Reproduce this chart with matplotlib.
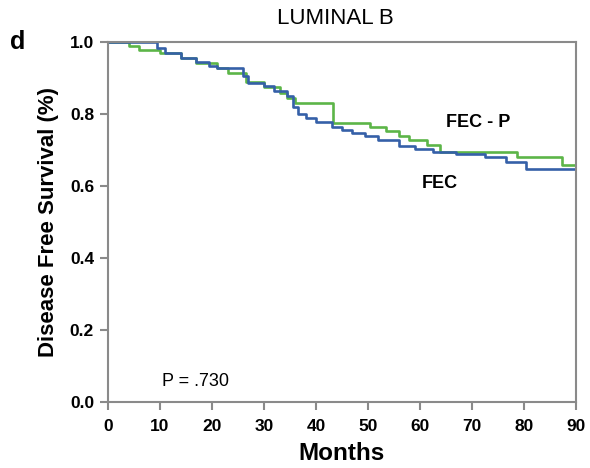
import matplotlib.pyplot as plt

plt.rcParams['font.family'] = ['Liberation Sans', 'DejaVu Sans']

# Kaplan-Meier step estimates (months, survival fraction)
fec_months = [0, 9.5, 11, 14, 17, 19.5, 21, 26, 27, 30, 32, 34.5, 35.5, 36.5, 38, 40,
              43, 45, 47, 49.5, 52, 56, 59, 62.5, 67, 72.5, 76.5, 80.5, 90]
fec_surv = [1.0, 0.985, 0.969, 0.955, 0.945, 0.935, 0.928, 0.905, 0.886, 0.878, 0.865,
            0.85, 0.82, 0.80, 0.79, 0.778, 0.765, 0.756, 0.748, 0.738, 0.728, 0.712,
            0.703, 0.694, 0.69, 0.68, 0.667, 0.647, 0.647]

fecp_months = [0, 4, 6, 10, 14, 17, 21, 23, 26.5, 30, 33, 34.5, 36, 43.3, 50.5, 53.5,
               56, 58, 61.3, 63.8, 78.6, 87.3, 90]
fecp_surv = [1.0, 0.99, 0.978, 0.97, 0.955, 0.942, 0.928, 0.914, 0.89, 0.875, 0.86,
             0.845, 0.832, 0.775, 0.765, 0.752, 0.74, 0.728, 0.714, 0.694, 0.68,
             0.658, 0.658]

x_ticks = [0, 10, 20, 30, 40, 50, 60, 70, 80, 90]
y_ticks = [0.0, 0.2, 0.4, 0.6, 0.8, 1.0]

fig = plt.figure(figsize=(5.9, 4.68), dpi=100)
ax = fig.add_axes([0.183, 0.141, 0.793, 0.769])

ax.step(fecp_months, fecp_surv, where='post', color='#5cb548', linewidth=1.9)
ax.step(fec_months, fec_surv, where='post', color='#3560a8', linewidth=1.9)

ax.set_xlim(0, 90)
ax.set_ylim(0, 1.0)
ax.set_xticks(x_ticks)
ax.set_yticks(y_ticks)
ax.set_yticklabels([f"{v:.1f}" for v in y_ticks])

for s in ax.spines.values():
    s.set_color('#8a8a8a')
    s.set_linewidth(1.5)
ax.tick_params(direction='out', length=6, width=1.5, color='#8a8a8a',
               labelsize=12.5, pad=4)
ax.tick_params(axis='x', pad=6)
for lbl in ax.get_xticklabels() + ax.get_yticklabels():
    lbl.set_fontweight('bold')

ax.set_xlabel("Months", fontsize=17.5, fontweight='bold', labelpad=6)
ax.set_ylabel("Disease Free Survival (%)", fontsize=16, fontweight='bold', labelpad=8)

fig.text(335 / 590, 1 - 19 / 468, "LUMINAL B", fontsize=16, ha='center', va='center')
fig.text(18 / 590, 1 - 42 / 468, "d", fontsize=18, fontweight='bold',
         ha='center', va='center')

ax.text(71.3, 0.778, "FEC - P", fontsize=13, fontweight='bold', ha='center', va='center')
ax.text(63.8, 0.608, "FEC", fontsize=13, fontweight='bold', ha='center', va='center')
ax.text(16.9, 0.058, "P = .730", fontsize=13, ha='center', va='center')

fig.savefig("out.png", dpi=100)
